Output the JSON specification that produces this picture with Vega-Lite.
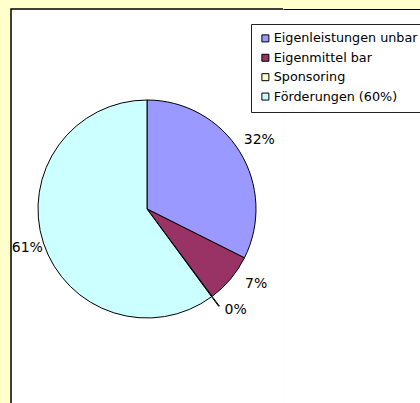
{
  "$schema": "https://vega.github.io/schema/vega-lite/v6.json",
  "background": "#FFFFCC",
  "padding": {"left": 10, "top": 8, "right": -1, "bottom": -7},
  "spacing": 0,
  "bounds": "flush",
  "data": {
    "values": [
      {"category": "Eigenleistungen unbar", "value": 32.4, "label": "32%", "o": 1},
      {"category": "Eigenmittel bar", "value": 7.4, "label": "7%", "o": 2},
      {"category": "Sponsoring", "value": 0.1, "label": "0%", "o": 3},
      {"category": "Förderungen (60%)", "value": 60.1, "label": "61%", "o": 4}
    ]
  },
  "hconcat": [
    {
      "width": 272,
      "height": 400,
      "view": {"fill": "white", "stroke": "black", "strokeWidth": 1.5, "strokeDash": [272, 672, 400]},
      "encoding": {
        "theta": {"field": "value", "type": "quantitative", "stack": true},
        "order": {"field": "o", "type": "quantitative"}
      },
      "layer": [
        {
          "mark": {"type": "arc", "outerRadius": 109, "stroke": "black", "strokeWidth": 1},
          "encoding": {
            "color": {
              "field": "category",
              "type": "nominal",
              "scale": {
                "domain": ["Eigenleistungen unbar", "Eigenmittel bar", "Sponsoring", "Förderungen (60%)"],
                "range": ["#9999FF", "#993366", "#FFFFCC", "#CCFFFF"]
              },
              "legend": {
                "orient": "none",
                "legendX": 240,
                "legendY": 15,
                "title": null,
                "symbolType": "square",
                "symbolSize": 49,
                "symbolStrokeColor": "black",
                "symbolStrokeWidth": 1,
                "labelFont": "DejaVu Sans",
                "labelFontSize": 12.75,
                "labelColor": "black",
                "labelOffset": 2,
                "labelLimit": 300,
                "rowPadding": 5.4,
                "padding": 8,
                "strokeColor": "#222222",
                "fillColor": "white",
                "zindex": 1
              }
            }
          }
        },
        {
          "mark": {"type": "arc", "innerRadius": 110, "outerRadius": 121, "fill": null, "fillOpacity": 0, "stroke": "black", "strokeWidth": 1},
          "encoding": {
            "detail": {"field": "category"},
            "strokeOpacity": {"condition": {"test": "datum.category === 'Sponsoring'", "value": 1}, "value": 0}
          }
        },
        {
          "mark": {"type": "text", "radius": 132, "font": "DejaVu Sans", "fontSize": 14, "color": "black"},
          "encoding": {
            "detail": {"field": "category"},
            "text": {"condition": {"test": "datum.category === 'Eigenleistungen unbar'", "field": "label"}, "value": ""}
          }
        },
        {
          "mark": {"type": "text", "radius": 132, "dx": 8, "dy": -10, "font": "DejaVu Sans", "fontSize": 14, "color": "black"},
          "encoding": {
            "detail": {"field": "category"},
            "text": {"condition": {"test": "datum.category === 'Eigenmittel bar'", "field": "label"}, "value": ""}
          }
        },
        {
          "mark": {"type": "text", "radius": 132, "dx": 10, "dy": -5, "font": "DejaVu Sans", "fontSize": 14, "color": "black"},
          "encoding": {
            "detail": {"field": "category"},
            "text": {"condition": {"test": "datum.category === 'Sponsoring'", "field": "label"}, "value": ""}
          }
        },
        {
          "mark": {"type": "text", "radius": 126, "font": "DejaVu Sans", "fontSize": 14, "color": "black"},
          "encoding": {
            "detail": {"field": "category"},
            "text": {"condition": {"test": "datum.category === 'Förderungen (60%)'", "field": "label"}, "value": ""}
          }
        }
      ]
    },
    {
      "width": 137,
      "height": 400,
      "view": {"fill": "white", "stroke": "black", "strokeWidth": 1, "strokeDash": [137, 2000]},
      "transform": [{"filter": "false"}],
      "mark": {"type": "text"},
      "encoding": {"text": {"field": "label"}}
    }
  ]
}
